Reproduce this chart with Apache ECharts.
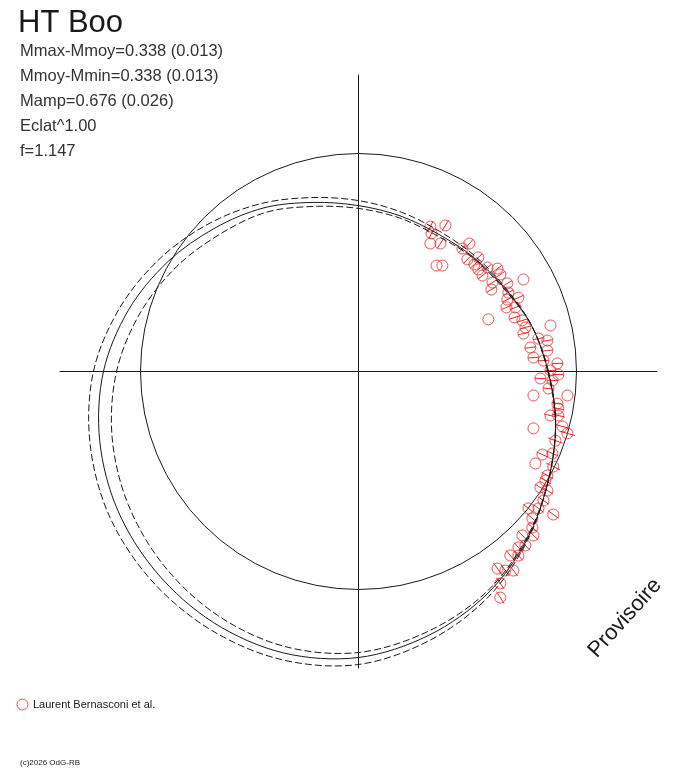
<!DOCTYPE html>
<html>
<head>
<meta charset="utf-8">
<script src="https://cdn.jsdelivr.net/npm/echarts@6/dist/echarts.min.js"></script>
<style>
  html, body { margin: 0; padding: 0; background: #fff; }
  #chart { width: 688px; height: 768px; }
</style>
</head>
<body>
<div id="chart"></div>
<script>
// texte
var starName = 'HT Boo';
var statLines = [
    'Mmax-Mmoy=0.338 (0.013)',
    'Mmoy-Mmin=0.338 (0.013)',
    'Mamp=0.676 (0.026)',
    'Eclat^1.00',
    'f=1.147'
];
var observer = 'Laurent Bernasconi et al.';

// courbe ajustee (rayon, cercle de reference = 1) par angle en degres
var curveAngle = [0, 15, 30, 45, 60, 75, 90, 105, 120, 135, 150, 165, 180,
    195, 210, 225, 240, 255, 270, 285, 300, 315, 330, 345];
var fitR = [0.870, 0.821, 0.771, 0.743, 0.729, 0.739, 0.761, 0.803, 0.867, 0.931, 1.009, 1.092, 1.170,
    1.229, 1.275, 1.307, 1.330, 1.336, 1.312, 1.252, 1.179, 1.092, 1.005, 0.936];
var upperR = [0.872, 0.821, 0.775, 0.752, 0.743, 0.757, 0.784, 0.826, 0.890, 0.963, 1.046, 1.133, 1.216,
    1.275, 1.321, 1.349, 1.365, 1.368, 1.344, 1.275, 1.193, 1.096, 1.005, 0.936];
var lowerR = [0.868, 0.821, 0.766, 0.739, 0.720, 0.729, 0.748, 0.784, 0.844, 0.894, 0.963, 1.037, 1.110,
    1.170, 1.220, 1.261, 1.292, 1.306, 1.289, 1.234, 1.170, 1.087, 1.005, 0.936];

// mesures
var obsX = [0.330, 0.399, 0.335, 0.330, 0.376, 0.358, 0.385, 0.509, 0.477, 0.500,
    0.550, 0.532, 0.550, 0.592, 0.638, 0.651, 0.569, 0.615, 0.610, 0.683,
    0.688, 0.734, 0.683, 0.679, 0.720, 0.757, 0.596, 0.716, 0.752, 0.766,
    0.881, 0.757, 0.826, 0.867, 0.789, 0.867, 0.803, 0.849, 0.913, 0.881,
    0.917, 0.835, 0.890, 0.872, 0.803, 0.959, 0.913, 0.917, 0.881, 0.917,
    0.936, 0.959, 0.803, 0.904, 0.844, 0.890, 0.812, 0.894, 0.867, 0.858,
    0.835, 0.867, 0.849, 0.780, 0.826, 0.894, 0.798, 0.798, 0.752, 0.803,
    0.766, 0.734, 0.697, 0.734, 0.638, 0.674, 0.711, 0.651, 0.651];
var obsY = [0.665, 0.670, 0.633, 0.587, 0.587, 0.486, 0.486, 0.587, 0.564, 0.514,
    0.523, 0.491, 0.468, 0.477, 0.472, 0.445, 0.440, 0.408, 0.376, 0.404,
    0.362, 0.339, 0.330, 0.294, 0.294, 0.422, 0.239, 0.248, 0.234, 0.202,
    0.211, 0.174, 0.151, 0.142, 0.110, 0.096, 0.064, 0.050, 0.037, 0.005,
    -0.014, -0.032, -0.041, -0.078, -0.110, -0.110, -0.147, -0.170, -0.202, -0.202,
    -0.252, -0.284, -0.261, -0.317, -0.381, -0.376, -0.422, -0.436, -0.477, -0.500,
    -0.532, -0.546, -0.592, -0.628, -0.628, -0.656, -0.674, -0.716, -0.752, -0.752,
    -0.798, -0.807, -0.844, -0.844, -0.904, -0.913, -0.913, -0.972, -1.037];
var obsErr = [0.028, 0.028, 0.025, 0, 0.028, 0, 0, 0.025, 0.025, 0.025,
    0.025, 0.025, 0.025, 0.025, 0.025, 0.025, 0.025, 0.025, 0.025, 0.025,
    0.025, 0.025, 0.025, 0.025, 0.025, 0, 0, 0.025, 0.025, 0.025,
    0, 0.025, 0.025, 0.025, 0.025, 0.025, 0.025, 0.025, 0.025, 0.025,
    0.025, 0.025, 0.025, 0.025, 0, 0, 0.025, 0.025, 0.03, 0.03,
    0.035, 0.035, 0, 0.035, 0.028, 0.028, 0, 0.035, 0.03, 0.03,
    0.03, 0.03, 0.03, 0.03, 0.03, 0.03, 0.03, 0.03, 0.03, 0.03,
    0.03, 0.03, 0.03, 0.03, 0.032, 0.032, 0.032, 0.032, 0.032];

var font = '"Liberation Sans", Arial, sans-serif';
var red = '#ee2626';
var ink = '#1a1a1a';
var unitPx = 218;      // rayon du cercle de reference
var outerMax = 1.4;    // etendue du repere polaire des courbes

var obsData = [];
for (var i = 0; i < obsX.length; i++) {
    obsData.push([obsX[i], obsY[i], obsErr[i]]);
}

// courbe fermee lissee, dessinee dans le repere polaire
function loopSeries(radii, dash) {
    var data = [];
    for (var i = 0; i < radii.length; i++) {
        data.push([radii[i], curveAngle[i]]);
    }
    return {
        type: 'custom',
        coordinateSystem: 'polar',
        polarIndex: 1,
        z: 3,
        silent: true,
        data: data,
        renderItem: function (params, api) {
            if (params.dataIndex !== 0) return;
            var pts = [];
            for (var j = 0; j < data.length; j++) {
                pts.push(api.coord(data[j]));
            }
            return {
                type: 'polygon',
                shape: { points: pts, smooth: 0.33 },
                style: { fill: null, stroke: ink, lineWidth: 1, lineDash: dash }
            };
        }
    };
}

var graphics = [{
    type: 'text', left: 18, top: 8,
    style: { text: starName, fontSize: 31, fontFamily: font, fill: ink }
}];
for (var k = 0; k < statLines.length; k++) {
    graphics.push({
        type: 'text', x: 20, y: 51.5 + k * 25,
        style: { text: statLines[k], fontSize: 16.5, fontFamily: font, fill: '#333',
            textVerticalAlign: 'middle' }
    });
}
graphics.push({
    type: 'text', x: 625, y: 618, rotation: 48 * Math.PI / 180,
    style: { text: 'Provisoire', fontSize: 22, fontFamily: font, fill: ink,
        textAlign: 'center', textVerticalAlign: 'middle' }
});
graphics.push({
    type: 'text', x: 20, y: 763,
    style: { text: '(c)2026 OdG-RB', fontSize: 8, fontFamily: font, fill: ink,
        textVerticalAlign: 'middle' }
});

function hiddenAngle(showLine) {
    return {
        type: 'value', min: 0, max: 360, startAngle: 0, clockwise: false,
        axisLine: { show: showLine, lineStyle: { color: ink, width: 1 } },
        axisTick: { show: false }, axisLabel: { show: false }, splitLine: { show: false }
    };
}
function hiddenRadius(max) {
    return {
        type: 'value', min: 0, max: max,
        axisLine: { show: false }, axisTick: { show: false },
        axisLabel: { show: false }, splitLine: { show: false }
    };
}

var chart = echarts.init(document.getElementById('chart'));
chart.setOption({
    animation: false,
    backgroundColor: '#fff',
    graphic: graphics,
    legend: {
        left: 16.5, top: 698.5, padding: 0,
        itemWidth: 11, itemHeight: 11, itemGap: 4,
        data: [{ name: observer, icon: 'circle',
            itemStyle: { color: 'rgba(0,0,0,0)', borderColor: red, borderWidth: 1 } }],
        textStyle: { fontSize: 11, fontFamily: font, color: ink }
    },
    grid: { left: 60, right: 31, top: 75, bottom: 100 },
    xAxis: {
        type: 'value', min: -1.37, max: 1.37,
        axisLine: { onZero: true, lineStyle: { color: ink, width: 1 } },
        axisTick: { show: false }, axisLabel: { show: false }, splitLine: { show: false }
    },
    yAxis: {
        type: 'value', min: -1.36, max: 1.36,
        axisLine: { onZero: true, lineStyle: { color: ink, width: 1 } },
        axisTick: { show: false }, axisLabel: { show: false }, splitLine: { show: false }
    },
    // polaire 0 : cercle de reference ; polaire 1 : courbes
    polar: [
        { center: [358.5, 371.5], radius: unitPx },
        { center: [358.5, 371.5], radius: unitPx * outerMax }
    ],
    angleAxis: [
        Object.assign(hiddenAngle(true), { polarIndex: 0 }),
        Object.assign(hiddenAngle(false), { polarIndex: 1 })
    ],
    radiusAxis: [
        Object.assign(hiddenRadius(1), { polarIndex: 0 }),
        Object.assign(hiddenRadius(outerMax), { polarIndex: 1 })
    ],
    series: [
        {
            name: observer,
            type: 'scatter',
            symbol: 'circle',
            symbolSize: 11,
            z: 1,
            itemStyle: { color: 'rgba(0,0,0,0)', borderColor: red, borderWidth: 1 },
            data: obsData
        },
        {
            // barres d'erreur radiales
            type: 'custom',
            z: 1,
            silent: true,
            data: obsData,
            renderItem: function (params, api) {
                var x = api.value(0), y = api.value(1), e = api.value(2);
                if (!e) return;
                var r = Math.sqrt(x * x + y * y);
                var ux = x / r, uy = y / r;
                var p1 = api.coord([x - ux * e, y - uy * e]);
                var p2 = api.coord([x + ux * e, y + uy * e]);
                return {
                    type: 'line',
                    shape: { x1: p1[0], y1: p1[1], x2: p2[0], y2: p2[1] },
                    style: { stroke: red, lineWidth: 1 }
                };
            }
        },
        loopSeries(fitR, null),
        loopSeries(upperR, [7, 3]),
        loopSeries(lowerR, [7, 3])
    ]
});
</script>
</body>
</html>
